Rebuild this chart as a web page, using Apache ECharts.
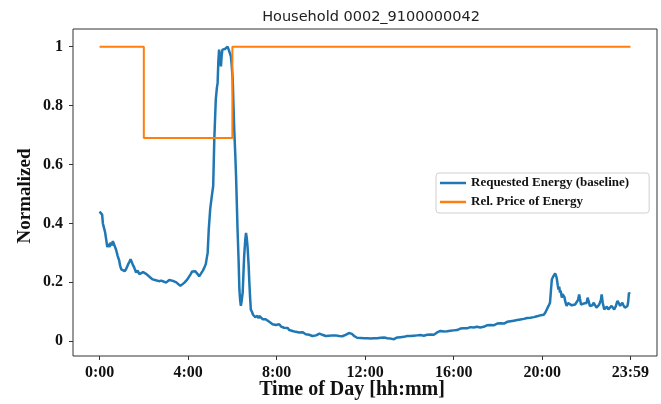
<!DOCTYPE html>
<html>
<head>
<meta charset="utf-8">
<script src="https://cdn.jsdelivr.net/npm/echarts@6/dist/echarts.min.js"></script>
<style>
  html, body { margin: 0; padding: 0; background: #fff; }
  #chart { width: 661px; height: 404px; }
</style>
</head>
<body>
<div id="chart"></div>
<script>
// minutes since midnight
const minutes = [
  0, 4, 7, 9, 12, 15, 18, 21, 24, 27, 30, 33, 36, 39, 42, 45, 49, 53, 56, 59,
  63, 68, 72, 77, 81, 84, 87, 90, 94, 99, 103, 108, 113, 118, 122, 127, 131, 136, 140, 144,
  150, 155, 161, 167, 173, 180, 185, 189, 194, 199, 203, 208, 213, 219, 224, 230, 234, 238, 243, 247,
  251, 255, 259, 263, 266, 270, 275, 280, 284, 288, 290, 293, 296, 300, 304, 308, 311, 315, 318, 320,
  322, 324, 326, 329, 331, 333, 336, 340, 343, 345, 347, 350, 352, 354, 356, 358, 361, 363, 365, 368,
  370, 372, 374, 377, 379, 381, 383, 385, 388, 390, 392, 395, 397, 399, 401, 404, 406, 408, 410, 413,
  416, 419, 422, 425, 428, 431, 433, 437, 442, 446, 450, 455, 460, 464, 469, 473, 478, 483, 487, 492,
  496, 500, 505, 510, 514, 519, 523, 528, 532, 537, 541, 546, 550, 555, 559, 564, 568, 573, 577, 582,
  587, 591, 596, 600, 604, 609, 613, 618, 622, 627, 631, 636, 640, 645, 649, 654, 658, 663, 667, 672,
  676, 679, 681, 684, 687, 690, 694, 698, 703, 708, 712, 717, 721, 726, 730, 735, 739, 744, 748, 753,
  757, 762, 766, 771, 775, 780, 784, 789, 793, 798, 802, 807, 811, 816, 820, 825, 829, 834, 838, 843,
  847, 852, 856, 861, 865, 870, 874, 879, 883, 888, 892, 897, 901, 906, 910, 915, 919, 924, 928, 933,
  937, 942, 946, 951, 955, 960, 964, 969, 973, 978, 982, 987, 991, 996, 1000, 1005, 1010, 1014, 1019, 1023,
  1028, 1032, 1037, 1041, 1046, 1050, 1055, 1059, 1064, 1068, 1073, 1078, 1082, 1087, 1091, 1096, 1100, 1105, 1109, 1114,
  1118, 1123, 1127, 1132, 1136, 1141, 1145, 1150, 1154, 1159, 1163, 1168, 1172, 1177, 1181, 1186, 1190, 1195, 1199, 1204,
  1208, 1212, 1217, 1221, 1224, 1226, 1228, 1230, 1233, 1235, 1237, 1239, 1242, 1244, 1246, 1248, 1250, 1253, 1255, 1257,
  1260, 1262, 1264, 1266, 1270, 1275, 1280, 1284, 1289, 1293, 1297, 1300, 1302, 1305, 1309, 1312, 1316, 1320, 1323, 1326,
  1329, 1333, 1336, 1339, 1343, 1347, 1350, 1354, 1357, 1359, 1361, 1364, 1368, 1372, 1375, 1379, 1383, 1388, 1391, 1395,
  1399, 1402, 1404, 1408, 1411, 1414, 1417, 1420, 1424, 1428, 1431, 1433, 1435, 1437
];

const requested = [
  0.44, 0.445, 0.43, 0.40, 0.385, 0.37, 0.345, 0.32, 0.33, 0.32, 0.335, 0.325, 0.34, 0.335, 0.32, 0.31, 0.29, 0.275, 0.255, 0.244,
  0.25, 0.238, 0.245, 0.26, 0.27, 0.278, 0.27, 0.26, 0.25, 0.233, 0.24, 0.228, 0.227, 0.235, 0.234, 0.228, 0.224, 0.218, 0.214, 0.21,
  0.208, 0.206, 0.204, 0.206, 0.203, 0.199, 0.205, 0.208, 0.203, 0.205, 0.201, 0.2, 0.196, 0.188, 0.193, 0.199, 0.203, 0.21, 0.216, 0.228,
  0.237, 0.242, 0.238, 0.232, 0.228, 0.22, 0.226, 0.24, 0.25, 0.262, 0.278, 0.30, 0.38, 0.45, 0.49, 0.527, 0.685, 0.82, 0.86, 0.877,
  0.95, 0.99, 0.97, 0.933, 0.97, 0.99, 0.985, 0.992, 0.99, 0.995, 1.0, 0.99, 0.985, 0.975, 0.967, 0.94, 0.888, 0.8, 0.72, 0.63,
  0.56, 0.47, 0.38, 0.27, 0.176, 0.14, 0.12, 0.135, 0.166, 0.23, 0.29, 0.345, 0.368, 0.35, 0.323, 0.26, 0.2, 0.15, 0.108, 0.1,
  0.09, 0.092, 0.082, 0.088, 0.086, 0.078, 0.086, 0.08, 0.075, 0.07, 0.075, 0.069, 0.066, 0.06, 0.058, 0.062, 0.055, 0.06, 0.058, 0.05,
  0.053, 0.046, 0.041, 0.045, 0.038, 0.04, 0.035, 0.038, 0.032, 0.034, 0.03, 0.027, 0.031, 0.026, 0.024, 0.028, 0.022, 0.02, 0.018, 0.022,
  0.02, 0.024, 0.026, 0.03, 0.022, 0.02, 0.018, 0.022, 0.019, 0.024, 0.02, 0.017, 0.02, 0.016, 0.018, 0.02, 0.017, 0.019, 0.022, 0.024,
  0.028, 0.034, 0.032, 0.025, 0.02, 0.018, 0.014, 0.012, 0.009, 0.011, 0.008, 0.01, 0.007, 0.01, 0.012, 0.009, 0.012, 0.01, 0.013, 0.01,
  0.009, 0.012, 0.01, 0.013, 0.012, 0.01, 0.008, 0.009, 0.006, 0.007, 0.01, 0.013, 0.015, 0.014, 0.017, 0.015, 0.016, 0.018, 0.016, 0.018,
  0.018, 0.019, 0.017, 0.02, 0.019, 0.021, 0.02, 0.019, 0.02, 0.022, 0.02, 0.023, 0.024, 0.022, 0.027, 0.03, 0.034, 0.035, 0.031, 0.033,
  0.03, 0.034, 0.032, 0.036, 0.038, 0.037, 0.04, 0.038, 0.041, 0.043, 0.04, 0.044, 0.046, 0.044, 0.045, 0.048, 0.044, 0.047, 0.046, 0.049,
  0.05, 0.047, 0.051, 0.049, 0.05, 0.054, 0.052, 0.055, 0.057, 0.054, 0.058, 0.06, 0.057, 0.061, 0.063, 0.06, 0.063, 0.066, 0.064, 0.068,
  0.066, 0.07, 0.069, 0.072, 0.07, 0.074, 0.072, 0.076, 0.075, 0.079, 0.076, 0.08, 0.078, 0.082, 0.08, 0.085, 0.082, 0.088, 0.085, 0.09,
  0.097, 0.103, 0.12, 0.131, 0.18, 0.21, 0.205, 0.221, 0.215, 0.23, 0.225, 0.216, 0.19, 0.176, 0.185, 0.165, 0.172, 0.148, 0.16, 0.165,
  0.15, 0.137, 0.128, 0.12, 0.13, 0.125, 0.122, 0.128, 0.125, 0.13, 0.14, 0.159, 0.145, 0.125, 0.122, 0.128, 0.125, 0.13, 0.148, 0.135,
  0.12, 0.126, 0.122, 0.131, 0.125, 0.114, 0.118, 0.124, 0.12, 0.14, 0.159, 0.13, 0.108, 0.112, 0.118, 0.108, 0.112, 0.12, 0.115, 0.108,
  0.118, 0.13, 0.137, 0.128, 0.12, 0.126, 0.131, 0.122, 0.114, 0.118, 0.12, 0.135, 0.165, 0.16
];

// relative price: step changes
const priceMinutes = [0, 120, 360, 1439];
const price = [1, 0.69, 1, 1];

const xTicks = [0, 240, 480, 720, 960, 1200, 1439];
const xTickLabels = ['0:00', '4:00', '8:00', '12:00', '16:00', '20:00', '23:59'];
const yTicks = [0, 0.2, 0.4, 0.6, 0.8, 1];
const yTickLabels = ['0', '0.2', '0.4', '0.6', '0.8', '1'];

const serif = '"Liberation Serif", "Times New Roman", serif';

const chart = echarts.init(document.getElementById('chart'), null, { renderer: 'canvas' });

const option = {
  animation: false,
  title: {
    text: 'Household 0002_9100000042',
    left: 366,
    top: 5,
    textAlign: 'center',
    textStyle: { fontFamily: 'DejaVu Sans', fontWeight: 'normal', fontSize: 14.5, color: '#222' }
  },
  grid: {
    left: 73,
    right: 4,
    top: 29,
    bottom: 48,
    show: true,
    borderColor: '#333',
    borderWidth: 1
  },
  legend: {
    orient: 'vertical',
    left: 436,
    top: 173,
    padding: [3, 20, 4, 4],
    itemGap: 5,
    itemWidth: 26,
    itemHeight: 2.5,
    icon: 'rect',
    backgroundColor: '#fff',
    borderColor: '#d0d0d0',
    borderWidth: 1,
    borderRadius: 3,
    textStyle: { fontFamily: serif, fontWeight: 'bold', fontSize: 13, lineHeight: 14, color: '#111' },
    data: ['Requested Energy (baseline)', 'Rel. Price of Energy']
  },
  xAxis: {
    type: 'value',
    min: -72,
    max: 1511,
    axisLine: { show: false, onZero: false },
    splitLine: { show: false },
    axisTick: { show: true, length: 4, lineStyle: { color: '#333' }, customValues: xTicks },
    axisLabel: {
      customValues: xTicks,
      margin: 9,
      fontFamily: serif,
      fontWeight: 'bold',
      fontSize: 16,
      color: '#111',
      formatter: (v) => xTickLabels[xTicks.indexOf(v)]
    }
  },
  yAxis: {
    type: 'value',
    min: -0.05,
    max: 1.06,
    axisLine: { show: false, onZero: false },
    splitLine: { show: false },
    axisTick: { show: true, length: 4, lineStyle: { color: '#333' }, customValues: yTicks },
    axisLabel: {
      customValues: yTicks,
      margin: 10,
      fontFamily: serif,
      fontWeight: 'bold',
      fontSize: 16,
      color: '#111',
      formatter: (v) => yTickLabels[yTicks.indexOf(v)]
    }
  },
  graphic: [
    {
      type: 'text',
      x: 352,
      y: 390,
      style: {
        text: 'Time of Day [hh:mm]',
        textAlign: 'center',
        textVerticalAlign: 'middle',
        font: 'bold 20px ' + serif,
        fill: '#111'
      }
    },
    {
      type: 'text',
      x: 25,
      y: 196,
      rotation: Math.PI / 2,
      style: {
        text: 'Normalized',
        textAlign: 'center',
        textVerticalAlign: 'middle',
        font: 'bold 19px ' + serif,
        fill: '#111'
      }
    }
  ],
  series: [
    {
      name: 'Requested Energy (baseline)',
      type: 'line',
      symbol: 'none',
      color: '#1f77b4',
      lineStyle: { width: 2.5, color: '#1f77b4' },
      data: minutes.map((m, i) => [m, requested[i]])
    },
    {
      name: 'Rel. Price of Energy',
      type: 'line',
      symbol: 'none',
      step: 'end',
      color: '#ff7f0e',
      lineStyle: { width: 2, color: '#ff7f0e' },
      data: priceMinutes.map((m, i) => [m, price[i]])
    }
  ]
};

chart.setOption(option);
</script>
</body>
</html>
